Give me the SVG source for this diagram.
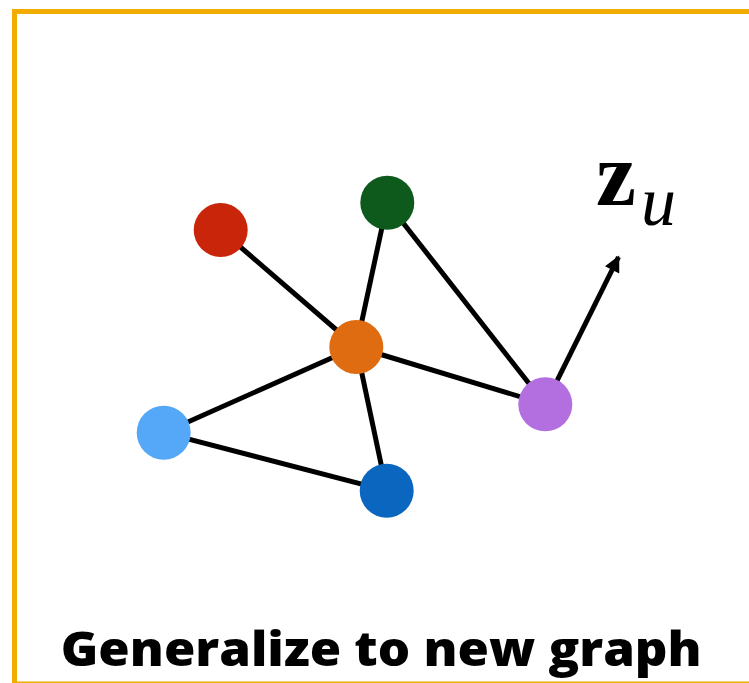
<svg xmlns="http://www.w3.org/2000/svg" width="749" height="683" viewBox="0 0 749 683">
  <style>
    .edge { stroke: #000; stroke-width: 5; fill: none; }
    .title { font-family: "Open Sans", "Liberation Sans", sans-serif; font-weight: 800; font-size: 48px; fill: #000; }
    .math { font-family: "Liberation Serif", "DejaVu Serif", serif; fill: #000; }
  </style>
  <defs>
    <marker id="arrow" viewBox="0 0 10 10" refX="9" refY="5" markerWidth="3.4" markerHeight="3.2" orient="auto" markerUnits="strokeWidth">
      <path d="M0,0 L10,5 L0,10 Z" fill="#000"/>
    </marker>
  </defs>
  <rect x="14.5" y="11.5" width="800" height="672.5" fill="#fff" stroke="#F0AD00" stroke-width="5"/>
  <g id="connectors">
    <line class="edge" x1="220.7" y1="230" x2="356.3" y2="347"/>
    <line class="edge" x1="387.3" y1="202.7" x2="356.3" y2="347"/>
    <line class="edge" x1="387.3" y1="202.7" x2="545.3" y2="404.3"/>
    <line class="edge" x1="356.3" y1="347" x2="545.3" y2="404.3"/>
    <line class="edge" x1="356.3" y1="347" x2="163.7" y2="432.7"/>
    <line class="edge" x1="356.3" y1="347" x2="386.7" y2="490.7"/>
    <line class="edge" x1="163.7" y1="432.7" x2="386.7" y2="490.7"/>
    <line class="edge" x1="545.3" y1="404.3" x2="618.5" y2="257" marker-end="url(#arrow)"/>
  </g>
  <g id="node-red"><circle cx="220.7" cy="230" r="27" fill="#C8250A"/></g>
  <g id="node-green"><circle cx="387.3" cy="202.7" r="27" fill="#0E5A1C"/></g>
  <g id="node-orange"><circle cx="356.3" cy="347" r="27" fill="#E06C12"/></g>
  <g id="node-lightblue"><circle cx="163.7" cy="432.7" r="27" fill="#55A8F8"/></g>
  <g id="node-darkblue"><circle cx="386.7" cy="490.7" r="27" fill="#0B66C0"/></g>
  <g id="node-purple"><circle cx="545.3" cy="404.3" r="27" fill="#B36FE0"/></g>
  <g id="label-zu">
    <text class="math" x="596" y="205" font-size="90" font-weight="bold">z</text>
    <text class="math" x="641" y="225" font-size="70" font-style="italic">u</text>
  </g>
  <text class="title" x="60.7" y="666" textLength="641" lengthAdjust="spacingAndGlyphs">Generalize to new graph</text>
</svg>
